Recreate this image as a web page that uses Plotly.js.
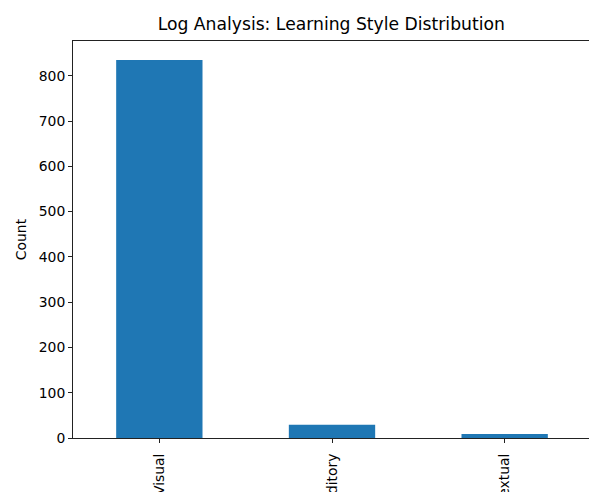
<!DOCTYPE html>
<html>
<head>
<meta charset="utf-8">
<script src="https://cdn.plot.ly/plotly-3.0.1.min.js"></script>
<style>
html, body { margin: 0; padding: 0; overflow: hidden; width: 589px; height: 492px; background: #fff; }
#chart { width: 591px; height: 492px; }
</style>
</head>
<body>
<div id="chart"></div>
<script>
const categories = ["Visual", "Auditory", "Textual"];
const counts = [835, 29, 9];
const chartTitle = "Log Analysis: Learning Style Distribution";
const yLabel = "Count";
const yTicks = [0, 100, 200, 300, 400, 500, 600, 700, 800];

const trace = {
  type: "bar",
  x: categories,
  y: counts,
  width: 0.5,
  marker: { color: "#1f77b4" },
  hoverinfo: "x+y"
};

const layout = {
  width: 591,
  height: 492,
  margin: { l: 73, r: 0, t: 41, b: 54, pad: 0 },
  paper_bgcolor: "#ffffff",
  plot_bgcolor: "#ffffff",
  font: { family: "DejaVu Sans", size: 13.9, color: "#000" },
  title: {
    text: chartTitle,
    font: { family: "DejaVu Sans", size: 17.2, color: "#000" },
    x: 0.5605, xanchor: "center",
    y: 0.951, yanchor: "middle"
  },
  showlegend: false,
  xaxis: {
    type: "category",
    range: [-0.5, 2.5],
    showline: true, linecolor: "#222", linewidth: 1, mirror: true,
    showgrid: false, zeroline: false,
    ticks: "outside", ticklen: 4, tickwidth: 1, tickcolor: "#222",
    tickangle: -90,
    ticklabelstandoff: 5,
    tickfont: { family: "DejaVu Sans", size: 13.9, color: "#000" }
  },
  yaxis: {
    range: [0, 876.75],
    tickvals: yTicks,
    ticktext: yTicks.map(String),
    showline: true, linecolor: "#222", linewidth: 1, mirror: true,
    showgrid: false, zeroline: false,
    ticks: "outside", ticklen: 4, tickwidth: 1, tickcolor: "#222",
    tickfont: { family: "DejaVu Sans", size: 13.9, color: "#000" },
    title: { text: yLabel, font: { family: "DejaVu Sans", size: 13.9, color: "#000" }, standoff: 8 }
  }
};

Plotly.newPlot("chart", [trace], layout, { displayModeBar: false, staticPlot: true });
</script>
</body>
</html>
